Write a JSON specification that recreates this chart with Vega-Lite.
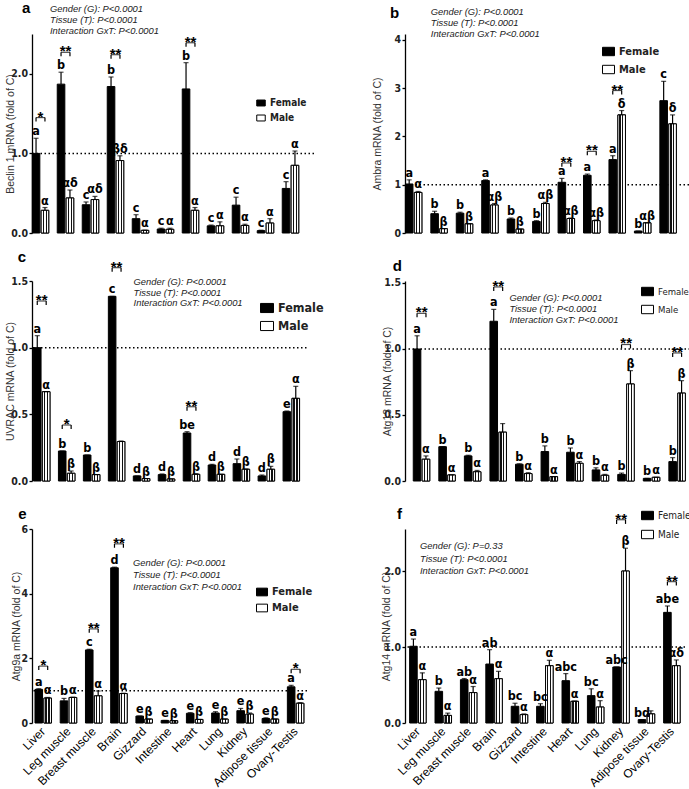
{
"$schema": "https://vega.github.io/schema/vega-lite/v6.json",
"padding": {"left": 5, "top": 0, "right": 0, "bottom": 0},
"config": {
 "view": {"stroke": null},
 "axis": {"labelFont": "'Liberation Sans Narrow', 'DejaVu Sans Condensed', sans-serif", "labelFontSize": 10.5, "labelFontWeight": "bold", "labelColor": "#222222", "titleFont": "'Liberation Sans', Arial, sans-serif", "titleFontSize": 10.5, "titleFontWeight": "normal", "titleColor": "#333333", "tickColor": "black", "domainColor": "black", "tickSize": 3, "tickWidth": 1.3, "domainWidth": 1.3, "grid": false, "labelPadding": 1.5},
 "text": {"font": "'Liberation Sans Narrow', 'DejaVu Sans Condensed', sans-serif", "fontSize": 12.5, "fontWeight": "bold", "color": "black"},
 "legend": {"symbolType": "M-1,-0.7H1V0.7H-1Z", "symbolStrokeColor": "black", "symbolStrokeWidth": 1, "labelFont": "'Liberation Sans Narrow', 'DejaVu Sans Condensed', sans-serif", "labelFontWeight": "bold", "labelColor": "#222222", "labelOffset": 4}
},
"datasets": {
"bars": [
{"p":"a","t":"Liver","s":"Female","v":1.0,"hi":1.19,"l":"a"},
{"p":"a","t":"Liver","s":"Male","v":0.285,"hi":0.32,"l":"α"},
{"p":"a","t":"Leg muscle","s":"Female","v":1.87,"hi":2.02,"l":"b"},
{"p":"a","t":"Leg muscle","s":"Male","v":0.44,"hi":0.54,"l":"αδ"},
{"p":"a","t":"Breast muscle","s":"Female","v":0.355,"hi":0.39,"l":"c"},
{"p":"a","t":"Breast muscle","s":"Male","v":0.42,"hi":0.46,"l":"αδ"},
{"p":"a","t":"Brain","s":"Female","v":1.84,"hi":1.96,"l":"b"},
{"p":"a","t":"Brain","s":"Male","v":0.91,"hi":0.97,"l":"βδ"},
{"p":"a","t":"Gizzard","s":"Female","v":0.18,"hi":0.23,"l":"c"},
{"p":"a","t":"Gizzard","s":"Male","v":0.033,"hi":0.036,"l":"α"},
{"p":"a","t":"Intestine","s":"Female","v":0.05,"hi":0.06,"l":"c"},
{"p":"a","t":"Intestine","s":"Male","v":0.046,"hi":0.06,"l":"α"},
{"p":"a","t":"Heart","s":"Female","v":1.81,"hi":2.14,"l":"b"},
{"p":"a","t":"Heart","s":"Male","v":0.285,"hi":0.32,"l":"α"},
{"p":"a","t":"Lung","s":"Female","v":0.09,"hi":0.10,"l":"c"},
{"p":"a","t":"Lung","s":"Male","v":0.09,"hi":0.14,"l":"α"},
{"p":"a","t":"Kidney","s":"Female","v":0.35,"hi":0.45,"l":"c"},
{"p":"a","t":"Kidney","s":"Male","v":0.095,"hi":0.11,"l":"α"},
{"p":"a","t":"Adipose tissue","s":"Female","v":0.03,"hi":0.035,"l":"c"},
{"p":"a","t":"Adipose tissue","s":"Male","v":0.125,"hi":0.18,"l":"α"},
{"p":"a","t":"Ovary-Testis","s":"Female","v":0.56,"hi":0.645,"l":"c"},
{"p":"a","t":"Ovary-Testis","s":"Male","v":0.85,"hi":1.03,"l":"α"},
{"p":"b","t":"Liver","s":"Female","v":1.015,"hi":1.10,"l":"a"},
{"p":"b","t":"Liver","s":"Male","v":0.84,"hi":0.86,"l":"α"},
{"p":"b","t":"Leg muscle","s":"Female","v":0.40,"hi":0.45,"l":"b"},
{"p":"b","t":"Leg muscle","s":"Male","v":0.09,"hi":0.09,"l":"β"},
{"p":"b","t":"Breast muscle","s":"Female","v":0.41,"hi":0.43,"l":"b"},
{"p":"b","t":"Breast muscle","s":"Male","v":0.19,"hi":0.19,"l":"β"},
{"p":"b","t":"Brain","s":"Female","v":1.085,"hi":1.10,"l":"a"},
{"p":"b","t":"Brain","s":"Male","v":0.58,"hi":0.61,"l":"αβ"},
{"p":"b","t":"Gizzard","s":"Female","v":0.29,"hi":0.31,"l":"b"},
{"p":"b","t":"Gizzard","s":"Male","v":0.08,"hi":0.08,"l":"β"},
{"p":"b","t":"Intestine","s":"Female","v":0.24,"hi":0.255,"l":"b"},
{"p":"b","t":"Intestine","s":"Male","v":0.61,"hi":0.635,"l":"αβ"},
{"p":"b","t":"Heart","s":"Female","v":1.05,"hi":1.13,"l":"a"},
{"p":"b","t":"Heart","s":"Male","v":0.30,"hi":0.31,"l":"αβ"},
{"p":"b","t":"Lung","s":"Female","v":1.195,"hi":1.22,"l":"a"},
{"p":"b","t":"Lung","s":"Male","v":0.255,"hi":0.27,"l":"αβ"},
{"p":"b","t":"Kidney","s":"Female","v":1.52,"hi":1.60,"l":"a"},
{"p":"b","t":"Kidney","s":"Male","v":2.445,"hi":2.535,"l":"δ"},
{"p":"b","t":"Adipose tissue","s":"Female","v":0.04,"hi":0.04,"l":"b"},
{"p":"b","t":"Adipose tissue","s":"Male","v":0.21,"hi":0.21,"l":"αβ"},
{"p":"b","t":"Ovary-Testis","s":"Female","v":2.74,"hi":3.14,"l":"c"},
{"p":"b","t":"Ovary-Testis","s":"Male","v":2.26,"hi":2.445,"l":"δ"},
{"p":"c","t":"Liver","s":"Female","v":1.0,"hi":1.09,"l":"a"},
{"p":"c","t":"Liver","s":"Male","v":0.67,"hi":0.67,"l":"α"},
{"p":"c","t":"Leg muscle","s":"Female","v":0.225,"hi":0.225,"l":"b"},
{"p":"c","t":"Leg muscle","s":"Male","v":0.058,"hi":0.075,"l":"β"},
{"p":"c","t":"Breast muscle","s":"Female","v":0.195,"hi":0.195,"l":"b"},
{"p":"c","t":"Breast muscle","s":"Male","v":0.048,"hi":0.048,"l":"β"},
{"p":"c","t":"Brain","s":"Female","v":1.385,"hi":1.385,"l":"c"},
{"p":"c","t":"Brain","s":"Male","v":0.296,"hi":0.30,"l":""},
{"p":"c","t":"Gizzard","s":"Female","v":0.038,"hi":0.038,"l":"d"},
{"p":"c","t":"Gizzard","s":"Male","v":0.018,"hi":0.018,"l":"β"},
{"p":"c","t":"Intestine","s":"Female","v":0.048,"hi":0.053,"l":"d"},
{"p":"c","t":"Intestine","s":"Male","v":0.015,"hi":0.015,"l":"β"},
{"p":"c","t":"Heart","s":"Female","v":0.36,"hi":0.37,"l":"be"},
{"p":"c","t":"Heart","s":"Male","v":0.05,"hi":0.055,"l":"β"},
{"p":"c","t":"Lung","s":"Female","v":0.12,"hi":0.125,"l":"d"},
{"p":"c","t":"Lung","s":"Male","v":0.05,"hi":0.05,"l":"β"},
{"p":"c","t":"Kidney","s":"Female","v":0.13,"hi":0.165,"l":"d"},
{"p":"c","t":"Kidney","s":"Male","v":0.088,"hi":0.09,"l":"β"},
{"p":"c","t":"Adipose tissue","s":"Female","v":0.038,"hi":0.045,"l":"d"},
{"p":"c","t":"Adipose tissue","s":"Male","v":0.088,"hi":0.11,"l":"β"},
{"p":"c","t":"Ovary-Testis","s":"Female","v":0.52,"hi":0.525,"l":"e"},
{"p":"c","t":"Ovary-Testis","s":"Male","v":0.62,"hi":0.71,"l":"α"},
{"p":"d","t":"Liver","s":"Female","v":1.0,"hi":1.10,"l":"a"},
{"p":"d","t":"Liver","s":"Male","v":0.165,"hi":0.19,"l":"α"},
{"p":"d","t":"Leg muscle","s":"Female","v":0.26,"hi":0.26,"l":"b"},
{"p":"d","t":"Leg muscle","s":"Male","v":0.046,"hi":0.046,"l":"α"},
{"p":"d","t":"Breast muscle","s":"Female","v":0.19,"hi":0.195,"l":"b"},
{"p":"d","t":"Breast muscle","s":"Male","v":0.07,"hi":0.08,"l":"α"},
{"p":"d","t":"Brain","s":"Female","v":1.21,"hi":1.30,"l":"a"},
{"p":"d","t":"Brain","s":"Male","v":0.37,"hi":0.435,"l":""},
{"p":"d","t":"Gizzard","s":"Female","v":0.127,"hi":0.13,"l":"b"},
{"p":"d","t":"Gizzard","s":"Male","v":0.056,"hi":0.063,"l":"α"},
{"p":"d","t":"Intestine","s":"Female","v":0.223,"hi":0.266,"l":"b"},
{"p":"d","t":"Intestine","s":"Male","v":0.033,"hi":0.033,"l":"α"},
{"p":"d","t":"Heart","s":"Female","v":0.218,"hi":0.25,"l":"b"},
{"p":"d","t":"Heart","s":"Male","v":0.134,"hi":0.147,"l":"α"},
{"p":"d","t":"Lung","s":"Female","v":0.084,"hi":0.10,"l":"b"},
{"p":"d","t":"Lung","s":"Male","v":0.043,"hi":0.05,"l":"α"},
{"p":"d","t":"Kidney","s":"Female","v":0.05,"hi":0.06,"l":"b"},
{"p":"d","t":"Kidney","s":"Male","v":0.735,"hi":0.836,"l":"β"},
{"p":"d","t":"Adipose tissue","s":"Female","v":0.02,"hi":0.02,"l":"b"},
{"p":"d","t":"Adipose tissue","s":"Male","v":0.028,"hi":0.028,"l":"α"},
{"p":"d","t":"Ovary-Testis","s":"Female","v":0.147,"hi":0.177,"l":"b"},
{"p":"d","t":"Ovary-Testis","s":"Male","v":0.666,"hi":0.76,"l":"β"},
{"p":"e","t":"Liver","s":"Female","v":1.04,"hi":1.06,"l":"a"},
{"p":"e","t":"Liver","s":"Male","v":0.77,"hi":0.79,"l":"α"},
{"p":"e","t":"Leg muscle","s":"Female","v":0.685,"hi":0.76,"l":"b"},
{"p":"e","t":"Leg muscle","s":"Male","v":0.79,"hi":0.80,"l":"α"},
{"p":"e","t":"Breast muscle","s":"Female","v":2.26,"hi":2.28,"l":"c"},
{"p":"e","t":"Breast muscle","s":"Male","v":0.84,"hi":0.99,"l":"α"},
{"p":"e","t":"Brain","s":"Female","v":4.80,"hi":4.82,"l":"d"},
{"p":"e","t":"Brain","s":"Male","v":0.91,"hi":0.92,"l":"α"},
{"p":"e","t":"Gizzard","s":"Female","v":0.215,"hi":0.215,"l":"e"},
{"p":"e","t":"Gizzard","s":"Male","v":0.12,"hi":0.12,"l":"β"},
{"p":"e","t":"Intestine","s":"Female","v":0.08,"hi":0.08,"l":"e"},
{"p":"e","t":"Intestine","s":"Male","v":0.07,"hi":0.07,"l":"β"},
{"p":"e","t":"Heart","s":"Female","v":0.30,"hi":0.32,"l":"e"},
{"p":"e","t":"Heart","s":"Male","v":0.11,"hi":0.11,"l":"β"},
{"p":"e","t":"Lung","s":"Female","v":0.31,"hi":0.35,"l":"e"},
{"p":"e","t":"Lung","s":"Male","v":0.12,"hi":0.12,"l":"β"},
{"p":"e","t":"Kidney","s":"Female","v":0.38,"hi":0.45,"l":"e"},
{"p":"e","t":"Kidney","s":"Male","v":0.275,"hi":0.31,"l":"β"},
{"p":"e","t":"Adipose tissue","s":"Female","v":0.14,"hi":0.16,"l":"e"},
{"p":"e","t":"Adipose tissue","s":"Male","v":0.12,"hi":0.12,"l":"β"},
{"p":"e","t":"Ovary-Testis","s":"Female","v":1.12,"hi":1.165,"l":"a"},
{"p":"e","t":"Ovary-Testis","s":"Male","v":0.61,"hi":0.63,"l":"α"},
{"p":"f","t":"Liver","s":"Female","v":1.01,"hi":1.105,"l":"a"},
{"p":"f","t":"Liver","s":"Male","v":0.57,"hi":0.66,"l":"α"},
{"p":"f","t":"Leg muscle","s":"Female","v":0.417,"hi":0.46,"l":"b"},
{"p":"f","t":"Leg muscle","s":"Male","v":0.10,"hi":0.13,"l":"α"},
{"p":"f","t":"Breast muscle","s":"Female","v":0.57,"hi":0.585,"l":"ab"},
{"p":"f","t":"Breast muscle","s":"Male","v":0.40,"hi":0.48,"l":"α"},
{"p":"f","t":"Brain","s":"Female","v":0.776,"hi":0.965,"l":"ab"},
{"p":"f","t":"Brain","s":"Male","v":0.583,"hi":0.68,"l":"α"},
{"p":"f","t":"Gizzard","s":"Female","v":0.22,"hi":0.26,"l":"bc"},
{"p":"f","t":"Gizzard","s":"Male","v":0.11,"hi":0.12,"l":"α"},
{"p":"f","t":"Intestine","s":"Female","v":0.22,"hi":0.254,"l":"bc"},
{"p":"f","t":"Intestine","s":"Male","v":0.754,"hi":0.825,"l":"α"},
{"p":"f","t":"Heart","s":"Female","v":0.557,"hi":0.65,"l":"abc"},
{"p":"f","t":"Heart","s":"Male","v":0.285,"hi":0.29,"l":"α"},
{"p":"f","t":"Lung","s":"Female","v":0.36,"hi":0.45,"l":"bc"},
{"p":"f","t":"Lung","s":"Male","v":0.21,"hi":0.294,"l":"α"},
{"p":"f","t":"Kidney","s":"Female","v":0.737,"hi":0.737,"l":"abc"},
{"p":"f","t":"Kidney","s":"Male","v":2.00,"hi":2.30,"l":"β"},
{"p":"f","t":"Adipose tissue","s":"Female","v":0.044,"hi":0.044,"l":"bd"},
{"p":"f","t":"Adipose tissue","s":"Male","v":0.12,"hi":0.16,"l":""},
{"p":"f","t":"Ovary-Testis","s":"Female","v":1.456,"hi":1.54,"l":"abe"},
{"p":"f","t":"Ovary-Testis","s":"Male","v":0.754,"hi":0.83,"l":"αδ"}
],
"brk": [
{"p":"a","t":"Liver","y":1.45,"lo":1.40,"st":"*","e":["Female","Male"]},
{"p":"a","t":"Leg muscle","y":2.27,"lo":2.22,"st":"**","e":["Female","Male"]},
{"p":"a","t":"Brain","y":2.24,"lo":2.19,"st":"**","e":["Female","Male"]},
{"p":"a","t":"Heart","y":2.39,"lo":2.34,"st":"**","e":["Female","Male"]},
{"p":"b","t":"Heart","y":1.45,"lo":1.37,"st":"**","e":["Female","Male"]},
{"p":"b","t":"Lung","y":1.69,"lo":1.61,"st":"**","e":["Female","Male"]},
{"p":"b","t":"Kidney","y":2.95,"lo":2.87,"st":"**","e":["Female","Male"]},
{"p":"c","t":"Liver","y":1.35,"lo":1.32,"st":"**","e":["Female","Male"]},
{"p":"c","t":"Leg muscle","y":0.42,"lo":0.39,"st":"*","e":["Female","Male"]},
{"p":"c","t":"Brain","y":1.60,"lo":1.57,"st":"**","e":["Female","Male"]},
{"p":"c","t":"Heart","y":0.557,"lo":0.527,"st":"**","e":["Female","Male"]},
{"p":"d","t":"Liver","y":1.27,"lo":1.24,"st":"**","e":["Female","Male"]},
{"p":"d","t":"Brain","y":1.47,"lo":1.44,"st":"**","e":["Female","Male"]},
{"p":"d","t":"Kidney","y":1.034,"lo":1.004,"st":"**","e":["Female","Male"]},
{"p":"d","t":"Ovary-Testis","y":0.97,"lo":0.94,"st":"**","e":["Female","Male"]},
{"p":"e","t":"Liver","y":1.76,"lo":1.64,"st":"*","e":["Female","Male"]},
{"p":"e","t":"Breast muscle","y":2.91,"lo":2.79,"st":"**","e":["Female","Male"]},
{"p":"e","t":"Brain","y":5.54,"lo":5.42,"st":"**","e":["Female","Male"]},
{"p":"e","t":"Ovary-Testis","y":1.66,"lo":1.54,"st":"*","e":["Female","Male"]},
{"p":"f","t":"Kidney","y":2.675,"lo":2.62,"st":"**","e":["Female","Male"]},
{"p":"f","t":"Ovary-Testis","y":1.86,"lo":1.81,"st":"**","e":["Female","Male"]}
]
},
"columns": 2,
"align": "none",
"bounds": "flush",
"spacing": {"row": 48, "column": 91},
"resolve": {"legend": {"color": "independent"}},
"concat": [
 {"width": 282, "height": 199,
  "layer": [
   {"data": {"values": [{}]}, "mark": {"type": "rule", "strokeDash": [1.5, 2.5], "strokeWidth": 1.5, "color": "black"}, "encoding": {"y": {"datum": 1}}},
   {"data": {"name": "bars"}, "transform": [{"filter": "datum.p == 'a'"}],
    "encoding": {"x": {"field": "t", "type": "nominal", "scale": {"domain": ["Liver","Leg muscle","Breast muscle","Brain","Gizzard","Intestine","Heart","Lung","Kidney","Adipose tissue","Ovary-Testis"], "paddingInner": 0.34, "paddingOuter": 0.31, "align": 0.016}, "axis": {"labels": false, "ticks": false, "domain": false, "title": null}},
                 "xOffset": {"field": "s", "type": "nominal", "scale": {"domain": ["Female","Male"], "paddingInner": 0.15}}},
    "layer": [
     {"mark": {"type": "bar", "stroke": "black", "strokeWidth": 1}, "encoding": {"y": {"field": "v", "type": "quantitative", "scale": {"domain": [0, 2.5], "nice": false}, "axis": {"title": "Beclin 1 mRNA (fold of C)", "values": [0, 0.5, 1, 1.5, 2, 2.5], "format": ".1f", "titleX": -22, "titleBaseline": "middle"}}, "color": {"field": "s", "type": "nominal", "scale": {"domain": ["Female","Male"], "range": ["black","white"]}, "legend": {"title": null, "orient": "none", "legendX": 224, "legendY": 64, "symbolSize": 72, "labelFontSize": 10, "rowPadding": 5}}}},
     {"transform": [{"filter": "datum.s == 'Male'"}], "mark": {"type": "bar", "stroke": "black", "strokeWidth": 1, "fill": {"gradient": "linear", "x1": 0, "y1": 0, "x2": 1, "y2": 0, "stops": [{"offset": 0, "color": "#ffffff"}, {"offset": 0.2, "color": "#ffffff"}, {"offset": 0.2, "color": "#111111"}, {"offset": 0.36, "color": "#111111"}, {"offset": 0.36, "color": "#ffffff"}, {"offset": 0.58, "color": "#ffffff"}, {"offset": 0.58, "color": "#111111"}, {"offset": 0.74, "color": "#111111"}, {"offset": 0.74, "color": "#ffffff"}, {"offset": 1, "color": "#ffffff"}]}}, "encoding": {"y": {"field": "v", "type": "quantitative"}}},
     {"mark": {"type": "rule", "strokeWidth": 1.2, "color": "black"}, "encoding": {"y": {"field": "v", "type": "quantitative"}, "y2": {"field": "hi"}}},
     {"mark": {"type": "tick", "size": 5, "thickness": 1.2, "color": "black"}, "encoding": {"y": {"field": "hi", "type": "quantitative"}}},
     {"mark": {"type": "text", "baseline": "alphabetic", "dy": -3, "fill": "black"}, "encoding": {"y": {"field": "hi", "type": "quantitative"}, "text": {"field": "l"}}}
    ]},
   {"data": {"name": "brk"}, "transform": [{"filter": "datum.p == 'a'"}], "encoding": {"x": {"field": "t", "type": "nominal"}},
    "layer": [
     {"mark": {"type": "tick", "size": 9, "thickness": 1.2, "color": "black"}, "encoding": {"y": {"field": "y", "type": "quantitative"}}},
     {"transform": [{"flatten": ["e"]}], "mark": {"type": "rule", "strokeWidth": 1.2, "color": "black"}, "encoding": {"xOffset": {"field": "e", "type": "nominal"}, "y": {"field": "y", "type": "quantitative"}, "y2": {"field": "lo"}}},
     {"mark": {"type": "text", "baseline": "alphabetic", "dy": 4, "fontSize": 15, "fontWeight": "bold", "font": "'Liberation Sans', Arial, sans-serif", "fill": "black"}, "encoding": {"y": {"field": "y", "type": "quantitative"}, "text": {"field": "st"}}}
    ]},
   {"data": {"values": [{}]}, "mark": {"type": "text", "text": ["Gender (G): P<0.0001", "Tissue (T): P<0.0001", "Interaction GxT: P<0.0001"], "align": "left", "baseline": "top", "dx": 9.5, "lineHeight": 11, "font": "'Liberation Sans', Arial, sans-serif", "fontStyle": "italic", "fontWeight": "normal", "fontSize": 9.4, "fill": "#222222"}, "encoding": {"x": {"datum": "Liver"}, "y": {"datum": 2.87}}},
   {"data": {"values": [{}]}, "mark": {"type": "text", "text": "a", "align": "left", "baseline": "alphabetic", "dx": -18.5, "fontSize": 15, "fontWeight": "bold", "font": "'Liberation Sans', Arial, sans-serif", "fill": "black"}, "encoding": {"x": {"datum": "Liver"}, "y": {"datum": 2.764}}}
  ]},
 {"width": 284, "height": 199,
  "layer": [
   {"data": {"values": [{}]}, "mark": {"type": "rule", "strokeDash": [1.5, 2.5], "strokeWidth": 1.5, "color": "black"}, "encoding": {"y": {"datum": 1}}},
   {"data": {"name": "bars"}, "transform": [{"filter": "datum.p == 'b'"}],
    "encoding": {"x": {"field": "t", "type": "nominal", "scale": {"domain": ["Liver","Leg muscle","Breast muscle","Brain","Gizzard","Intestine","Heart","Lung","Kidney","Adipose tissue","Ovary-Testis"], "paddingInner": 0.34, "paddingOuter": 0.25, "align": 0.03}, "axis": {"labels": false, "ticks": false, "domain": false, "title": null}},
                 "xOffset": {"field": "s", "type": "nominal", "scale": {"domain": ["Female","Male"], "paddingInner": 0.15}}},
    "layer": [
     {"mark": {"type": "bar", "stroke": "black", "strokeWidth": 1}, "encoding": {"y": {"field": "v", "type": "quantitative", "scale": {"domain": [0, 4.12], "nice": false}, "axis": {"title": "Ambra mRNA (fold of C)", "values": [0, 1, 2, 3, 4], "format": "d", "titleX": -28, "titleBaseline": "middle"}}, "color": {"field": "s", "type": "nominal", "scale": {"domain": ["Female","Male"], "range": ["black","white"]}, "legend": {"title": null, "orient": "none", "legendX": 197, "legendY": 11, "symbolSize": 144, "labelFontSize": 11, "rowPadding": 5}}}},
     {"transform": [{"filter": "datum.s == 'Male'"}], "mark": {"type": "bar", "stroke": "black", "strokeWidth": 1, "fill": {"gradient": "linear", "x1": 0, "y1": 0, "x2": 1, "y2": 0, "stops": [{"offset": 0, "color": "#ffffff"}, {"offset": 0.2, "color": "#ffffff"}, {"offset": 0.2, "color": "#111111"}, {"offset": 0.36, "color": "#111111"}, {"offset": 0.36, "color": "#ffffff"}, {"offset": 0.58, "color": "#ffffff"}, {"offset": 0.58, "color": "#111111"}, {"offset": 0.74, "color": "#111111"}, {"offset": 0.74, "color": "#ffffff"}, {"offset": 1, "color": "#ffffff"}]}}, "encoding": {"y": {"field": "v", "type": "quantitative"}}},
     {"mark": {"type": "rule", "strokeWidth": 1.2, "color": "black"}, "encoding": {"y": {"field": "v", "type": "quantitative"}, "y2": {"field": "hi"}}},
     {"mark": {"type": "tick", "size": 5, "thickness": 1.2, "color": "black"}, "encoding": {"y": {"field": "hi", "type": "quantitative"}}},
     {"mark": {"type": "text", "baseline": "alphabetic", "dy": -3, "fill": "black"}, "encoding": {"y": {"field": "hi", "type": "quantitative"}, "text": {"field": "l"}}}
    ]},
   {"data": {"name": "brk"}, "transform": [{"filter": "datum.p == 'b'"}], "encoding": {"x": {"field": "t", "type": "nominal"}},
    "layer": [
     {"mark": {"type": "tick", "size": 9, "thickness": 1.2, "color": "black"}, "encoding": {"y": {"field": "y", "type": "quantitative"}}},
     {"transform": [{"flatten": ["e"]}], "mark": {"type": "rule", "strokeWidth": 1.2, "color": "black"}, "encoding": {"xOffset": {"field": "e", "type": "nominal"}, "y": {"field": "y", "type": "quantitative"}, "y2": {"field": "lo"}}},
     {"mark": {"type": "text", "baseline": "alphabetic", "dy": 4, "fontSize": 15, "fontWeight": "bold", "font": "'Liberation Sans', Arial, sans-serif", "fill": "black"}, "encoding": {"y": {"field": "y", "type": "quantitative"}, "text": {"field": "st"}}}
    ]},
   {"data": {"values": [{}]}, "mark": {"type": "text", "text": ["Gender (G): P<0.0001", "Tissue (T): P<0.0001", "Interaction GxT: P<0.0001"], "align": "left", "baseline": "top", "dx": 17, "lineHeight": 11, "font": "'Liberation Sans', Arial, sans-serif", "fontStyle": "italic", "fontWeight": "normal", "fontSize": 9.4, "fill": "#222222"}, "encoding": {"x": {"datum": "Liver"}, "y": {"datum": 4.66}}},
   {"data": {"values": [{}]}, "mark": {"type": "text", "text": "b", "align": "left", "baseline": "alphabetic", "dx": -23.8, "fontSize": 15, "fontWeight": "bold", "font": "'Liberation Sans', Arial, sans-serif", "fill": "black"}, "encoding": {"x": {"datum": "Liver"}, "y": {"datum": 4.45}}}
  ]},
 {"width": 274.5, "height": 200,
  "layer": [
   {"data": {"values": [{}]}, "mark": {"type": "rule", "strokeDash": [1.5, 2.5], "strokeWidth": 1.5, "color": "black"}, "encoding": {"y": {"datum": 1}}},
   {"data": {"name": "bars"}, "transform": [{"filter": "datum.p == 'c'"}],
    "encoding": {"x": {"field": "t", "type": "nominal", "scale": {"domain": ["Liver","Leg muscle","Breast muscle","Brain","Gizzard","Intestine","Heart","Lung","Kidney","Adipose tissue","Ovary-Testis"], "paddingInner": 0.34, "paddingOuter": 0.169, "align": 0.174}, "axis": {"labels": false, "ticks": false, "domain": false, "title": null}},
                 "xOffset": {"field": "s", "type": "nominal", "scale": {"domain": ["Female","Male"], "paddingInner": 0.15}}},
    "layer": [
     {"mark": {"type": "bar", "stroke": "black", "strokeWidth": 1}, "encoding": {"y": {"field": "v", "type": "quantitative", "scale": {"domain": [0, 1.5], "nice": false}, "axis": {"title": "UVRAC mRNA (fold of C)", "values": [0, 0.5, 1, 1.5], "format": ".1f", "titleX": -22, "titleBaseline": "middle"}}, "color": {"field": "s", "type": "nominal", "scale": {"domain": ["Female","Male"], "range": ["black","white"]}, "legend": {"title": null, "orient": "none", "legendX": 228, "legendY": 20, "symbolSize": 169, "labelFontSize": 12.5, "rowPadding": 4}}}},
     {"transform": [{"filter": "datum.s == 'Male'"}], "mark": {"type": "bar", "stroke": "black", "strokeWidth": 1, "fill": {"gradient": "linear", "x1": 0, "y1": 0, "x2": 1, "y2": 0, "stops": [{"offset": 0, "color": "#ffffff"}, {"offset": 0.2, "color": "#ffffff"}, {"offset": 0.2, "color": "#111111"}, {"offset": 0.36, "color": "#111111"}, {"offset": 0.36, "color": "#ffffff"}, {"offset": 0.58, "color": "#ffffff"}, {"offset": 0.58, "color": "#111111"}, {"offset": 0.74, "color": "#111111"}, {"offset": 0.74, "color": "#ffffff"}, {"offset": 1, "color": "#ffffff"}]}}, "encoding": {"y": {"field": "v", "type": "quantitative"}}},
     {"mark": {"type": "rule", "strokeWidth": 1.2, "color": "black"}, "encoding": {"y": {"field": "v", "type": "quantitative"}, "y2": {"field": "hi"}}},
     {"mark": {"type": "tick", "size": 5, "thickness": 1.2, "color": "black"}, "encoding": {"y": {"field": "hi", "type": "quantitative"}}},
     {"mark": {"type": "text", "baseline": "alphabetic", "dy": -3, "fill": "black"}, "encoding": {"y": {"field": "hi", "type": "quantitative"}, "text": {"field": "l"}}}
    ]},
   {"data": {"name": "brk"}, "transform": [{"filter": "datum.p == 'c'"}], "encoding": {"x": {"field": "t", "type": "nominal"}},
    "layer": [
     {"mark": {"type": "tick", "size": 9, "thickness": 1.2, "color": "black"}, "encoding": {"y": {"field": "y", "type": "quantitative"}}},
     {"transform": [{"flatten": ["e"]}], "mark": {"type": "rule", "strokeWidth": 1.2, "color": "black"}, "encoding": {"xOffset": {"field": "e", "type": "nominal"}, "y": {"field": "y", "type": "quantitative"}, "y2": {"field": "lo"}}},
     {"mark": {"type": "text", "baseline": "alphabetic", "dy": 4, "fontSize": 15, "fontWeight": "bold", "font": "'Liberation Sans', Arial, sans-serif", "fill": "black"}, "encoding": {"y": {"field": "y", "type": "quantitative"}, "text": {"field": "st"}}}
    ]},
   {"data": {"values": [{}]}, "mark": {"type": "text", "text": ["Gender (G): P<0.0001", "Tissue (T): P<0.0001", "Interaction GxT: P<0.0001"], "align": "left", "baseline": "top", "dx": 17, "lineHeight": 10.5, "font": "'Liberation Sans', Arial, sans-serif", "fontStyle": "italic", "fontWeight": "normal", "fontSize": 9.4, "fill": "#222222"}, "encoding": {"x": {"datum": "Brain"}, "y": {"datum": 1.52}}},
   {"data": {"values": [{}]}, "mark": {"type": "text", "text": "c", "align": "left", "baseline": "alphabetic", "dx": -24, "fontSize": 15, "fontWeight": "bold", "font": "'Liberation Sans', Arial, sans-serif", "fill": "black"}, "encoding": {"x": {"datum": "Liver"}, "y": {"datum": 1.643}}}
  ]},
 {"width": 289, "height": 200,
  "layer": [
   {"data": {"values": [{}]}, "mark": {"type": "rule", "strokeDash": [1.5, 2.5], "strokeWidth": 1.5, "color": "black"}, "encoding": {"y": {"datum": 1}}},
   {"data": {"name": "bars"}, "transform": [{"filter": "datum.p == 'd'"}],
    "encoding": {"x": {"field": "t", "type": "nominal", "scale": {"domain": ["Liver","Leg muscle","Breast muscle","Brain","Gizzard","Intestine","Heart","Lung","Kidney","Adipose tissue","Ovary-Testis"], "paddingInner": 0.34, "paddingOuter": 0.323}, "axis": {"labels": false, "ticks": false, "domain": false, "title": null}},
                 "xOffset": {"field": "s", "type": "nominal", "scale": {"domain": ["Female","Male"], "paddingInner": 0.15}}},
    "layer": [
     {"mark": {"type": "bar", "stroke": "black", "strokeWidth": 1}, "encoding": {"y": {"field": "v", "type": "quantitative", "scale": {"domain": [0, 1.515], "nice": false}, "axis": {"title": "Atg13 mRNA (fold of C)", "values": [0, 0.5, 1, 1.5], "format": ".1f", "titleX": -17.5, "titleBaseline": "middle"}}, "color": {"field": "s", "type": "nominal", "scale": {"domain": ["Female","Male"], "range": ["black","white"]}, "legend": {"title": null, "orient": "none", "legendX": 236, "legendY": 4, "symbolSize": 144, "labelFontSize": 9.5, "labelFontWeight": "normal", "rowPadding": 5}}}},
     {"transform": [{"filter": "datum.s == 'Male'"}], "mark": {"type": "bar", "stroke": "black", "strokeWidth": 1, "fill": {"gradient": "linear", "x1": 0, "y1": 0, "x2": 1, "y2": 0, "stops": [{"offset": 0, "color": "#ffffff"}, {"offset": 0.2, "color": "#ffffff"}, {"offset": 0.2, "color": "#111111"}, {"offset": 0.36, "color": "#111111"}, {"offset": 0.36, "color": "#ffffff"}, {"offset": 0.58, "color": "#ffffff"}, {"offset": 0.58, "color": "#111111"}, {"offset": 0.74, "color": "#111111"}, {"offset": 0.74, "color": "#ffffff"}, {"offset": 1, "color": "#ffffff"}]}}, "encoding": {"y": {"field": "v", "type": "quantitative"}}},
     {"mark": {"type": "rule", "strokeWidth": 1.2, "color": "black"}, "encoding": {"y": {"field": "v", "type": "quantitative"}, "y2": {"field": "hi"}}},
     {"mark": {"type": "tick", "size": 5, "thickness": 1.2, "color": "black"}, "encoding": {"y": {"field": "hi", "type": "quantitative"}}},
     {"mark": {"type": "text", "baseline": "alphabetic", "dy": -3, "fill": "black"}, "encoding": {"y": {"field": "hi", "type": "quantitative"}, "text": {"field": "l"}}}
    ]},
   {"data": {"name": "brk"}, "transform": [{"filter": "datum.p == 'd'"}], "encoding": {"x": {"field": "t", "type": "nominal"}},
    "layer": [
     {"mark": {"type": "tick", "size": 9, "thickness": 1.2, "color": "black"}, "encoding": {"y": {"field": "y", "type": "quantitative"}}},
     {"transform": [{"flatten": ["e"]}], "mark": {"type": "rule", "strokeWidth": 1.2, "color": "black"}, "encoding": {"xOffset": {"field": "e", "type": "nominal"}, "y": {"field": "y", "type": "quantitative"}, "y2": {"field": "lo"}}},
     {"mark": {"type": "text", "baseline": "alphabetic", "dy": 4, "fontSize": 15, "fontWeight": "bold", "font": "'Liberation Sans', Arial, sans-serif", "fill": "black"}, "encoding": {"y": {"field": "y", "type": "quantitative"}, "text": {"field": "st"}}}
    ]},
   {"data": {"values": [{}]}, "mark": {"type": "text", "text": ["Gender (G): P<0.0001", "Tissue (T): P<0.0001", "Interaction GxT: P<0.0001"], "align": "left", "baseline": "top", "dx": 11, "lineHeight": 11, "font": "'Liberation Sans', Arial, sans-serif", "fontStyle": "italic", "fontWeight": "normal", "fontSize": 9.4, "fill": "#222222"}, "encoding": {"x": {"datum": "Brain"}, "y": {"datum": 1.42}}},
   {"data": {"values": [{}]}, "mark": {"type": "text", "text": "d", "align": "left", "baseline": "alphabetic", "dx": -29, "fontSize": 15, "fontWeight": "bold", "font": "'Liberation Sans', Arial, sans-serif", "fill": "black"}, "encoding": {"x": {"datum": "Liver"}, "y": {"datum": 1.59}}}
  ]},
 {"width": 275, "height": 194,
  "layer": [
   {"data": {"values": [{}]}, "mark": {"type": "rule", "strokeDash": [1.5, 2.5], "strokeWidth": 1.5, "color": "black"}, "encoding": {"y": {"datum": 1}}},
   {"data": {"name": "bars"}, "transform": [{"filter": "datum.p == 'e'"}],
    "encoding": {"x": {"field": "t", "type": "nominal", "scale": {"domain": ["Liver","Leg muscle","Breast muscle","Brain","Gizzard","Intestine","Heart","Lung","Kidney","Adipose tissue","Ovary-Testis"], "paddingInner": 0.34, "paddingOuter": 0.118}, "axis": {"title": null, "labelAngle": -45, "labelAlign": "right", "labelBaseline": "middle", "labelFont": "'Liberation Sans', Arial, sans-serif", "labelFontSize": 12, "labelFontWeight": "normal", "labelColor": "black", "ticks": false, "domain": false, "labelPadding": 6}},
                 "xOffset": {"field": "s", "type": "nominal", "scale": {"domain": ["Female","Male"], "paddingInner": 0.15}}},
    "layer": [
     {"mark": {"type": "bar", "stroke": "black", "strokeWidth": 1}, "encoding": {"y": {"field": "v", "type": "quantitative", "scale": {"domain": [0, 6], "nice": false}, "axis": {"title": "Atg9a mRNA (fold of C)", "values": [0, 2, 4, 6], "format": "d", "titleX": -16, "titleBaseline": "middle"}}, "color": {"field": "s", "type": "nominal", "scale": {"domain": ["Female","Male"], "range": ["black","white"]}, "legend": {"title": null, "orient": "none", "legendX": 224, "legendY": 57, "symbolSize": 121, "labelFontSize": 11, "rowPadding": 4}}}},
     {"transform": [{"filter": "datum.s == 'Male'"}], "mark": {"type": "bar", "stroke": "black", "strokeWidth": 1, "fill": {"gradient": "linear", "x1": 0, "y1": 0, "x2": 1, "y2": 0, "stops": [{"offset": 0, "color": "#ffffff"}, {"offset": 0.2, "color": "#ffffff"}, {"offset": 0.2, "color": "#111111"}, {"offset": 0.36, "color": "#111111"}, {"offset": 0.36, "color": "#ffffff"}, {"offset": 0.58, "color": "#ffffff"}, {"offset": 0.58, "color": "#111111"}, {"offset": 0.74, "color": "#111111"}, {"offset": 0.74, "color": "#ffffff"}, {"offset": 1, "color": "#ffffff"}]}}, "encoding": {"y": {"field": "v", "type": "quantitative"}}},
     {"mark": {"type": "rule", "strokeWidth": 1.2, "color": "black"}, "encoding": {"y": {"field": "v", "type": "quantitative"}, "y2": {"field": "hi"}}},
     {"mark": {"type": "tick", "size": 5, "thickness": 1.2, "color": "black"}, "encoding": {"y": {"field": "hi", "type": "quantitative"}}},
     {"mark": {"type": "text", "baseline": "alphabetic", "dy": -3, "fill": "black"}, "encoding": {"y": {"field": "hi", "type": "quantitative"}, "text": {"field": "l"}}}
    ]},
   {"data": {"name": "brk"}, "transform": [{"filter": "datum.p == 'e'"}], "encoding": {"x": {"field": "t", "type": "nominal"}},
    "layer": [
     {"mark": {"type": "tick", "size": 9, "thickness": 1.2, "color": "black"}, "encoding": {"y": {"field": "y", "type": "quantitative"}}},
     {"transform": [{"flatten": ["e"]}], "mark": {"type": "rule", "strokeWidth": 1.2, "color": "black"}, "encoding": {"xOffset": {"field": "e", "type": "nominal"}, "y": {"field": "y", "type": "quantitative"}, "y2": {"field": "lo"}}},
     {"mark": {"type": "text", "baseline": "alphabetic", "dy": 4, "fontSize": 15, "fontWeight": "bold", "font": "'Liberation Sans', Arial, sans-serif", "fill": "black"}, "encoding": {"y": {"field": "y", "type": "quantitative"}, "text": {"field": "st"}}}
    ]},
   {"data": {"values": [{}]}, "mark": {"type": "text", "text": ["Gender (G): P<0.0001", "Tissue (T): P<0.0001", "Interaction GxT: P<0.0001"], "align": "left", "baseline": "top", "dx": 14, "lineHeight": 12, "font": "'Liberation Sans', Arial, sans-serif", "fontStyle": "italic", "fontWeight": "normal", "fontSize": 9.4, "fill": "#222222"}, "encoding": {"x": {"datum": "Brain"}, "y": {"datum": 5.08}}},
   {"data": {"values": [{}]}, "mark": {"type": "text", "text": "e", "align": "left", "baseline": "alphabetic", "dx": -25, "fontSize": 15, "fontWeight": "bold", "font": "'Liberation Sans', Arial, sans-serif", "fill": "black"}, "encoding": {"x": {"datum": "Liver"}, "y": {"datum": 6.31}}}
  ]},
 {"width": 280, "height": 194,
  "layer": [
   {"data": {"values": [{}]}, "mark": {"type": "rule", "strokeDash": [1.5, 2.5], "strokeWidth": 1.5, "color": "black"}, "encoding": {"y": {"datum": 1}}},
   {"data": {"name": "bars"}, "transform": [{"filter": "datum.p == 'f'"}],
    "encoding": {"x": {"field": "t", "type": "nominal", "scale": {"domain": ["Liver","Leg muscle","Breast muscle","Brain","Gizzard","Intestine","Heart","Lung","Kidney","Adipose tissue","Ovary-Testis"], "paddingInner": 0.34, "paddingOuter": 0.182}, "axis": {"title": null, "labelAngle": -45, "labelAlign": "right", "labelBaseline": "middle", "labelFont": "'Liberation Sans', Arial, sans-serif", "labelFontSize": 12, "labelFontWeight": "normal", "labelColor": "black", "ticks": false, "domain": false, "labelPadding": 6}},
                 "xOffset": {"field": "s", "type": "nominal", "scale": {"domain": ["Female","Male"], "paddingInner": 0.15}}},
    "layer": [
     {"mark": {"type": "bar", "stroke": "black", "strokeWidth": 1}, "encoding": {"y": {"field": "v", "type": "quantitative", "scale": {"domain": [0, 2.553], "nice": false}, "axis": {"title": "Atg14 mRNA (fold of C)", "values": [0, 0.5, 1, 1.5, 2, 2.5], "format": ".1f", "titleX": -19, "titleBaseline": "middle"}}, "color": {"field": "s", "type": "nominal", "scale": {"domain": ["Female","Male"], "range": ["black","white"]}, "legend": {"title": null, "orient": "none", "legendX": 236, "legendY": -20, "symbolSize": 144, "labelFontSize": 10, "labelFontWeight": "normal", "rowPadding": 6}}}},
     {"transform": [{"filter": "datum.s == 'Male'"}], "mark": {"type": "bar", "stroke": "black", "strokeWidth": 1, "fill": {"gradient": "linear", "x1": 0, "y1": 0, "x2": 1, "y2": 0, "stops": [{"offset": 0, "color": "#ffffff"}, {"offset": 0.2, "color": "#ffffff"}, {"offset": 0.2, "color": "#111111"}, {"offset": 0.36, "color": "#111111"}, {"offset": 0.36, "color": "#ffffff"}, {"offset": 0.58, "color": "#ffffff"}, {"offset": 0.58, "color": "#111111"}, {"offset": 0.74, "color": "#111111"}, {"offset": 0.74, "color": "#ffffff"}, {"offset": 1, "color": "#ffffff"}]}}, "encoding": {"y": {"field": "v", "type": "quantitative"}}},
     {"mark": {"type": "rule", "strokeWidth": 1.2, "color": "black"}, "encoding": {"y": {"field": "v", "type": "quantitative"}, "y2": {"field": "hi"}}},
     {"mark": {"type": "tick", "size": 5, "thickness": 1.2, "color": "black"}, "encoding": {"y": {"field": "hi", "type": "quantitative"}}},
     {"mark": {"type": "text", "baseline": "alphabetic", "dy": -3, "fill": "black"}, "encoding": {"y": {"field": "hi", "type": "quantitative"}, "text": {"field": "l"}}}
    ]},
   {"data": {"name": "brk"}, "transform": [{"filter": "datum.p == 'f'"}], "encoding": {"x": {"field": "t", "type": "nominal"}},
    "layer": [
     {"mark": {"type": "tick", "size": 9, "thickness": 1.2, "color": "black"}, "encoding": {"y": {"field": "y", "type": "quantitative"}}},
     {"transform": [{"flatten": ["e"]}], "mark": {"type": "rule", "strokeWidth": 1.2, "color": "black"}, "encoding": {"xOffset": {"field": "e", "type": "nominal"}, "y": {"field": "y", "type": "quantitative"}, "y2": {"field": "lo"}}},
     {"mark": {"type": "text", "baseline": "alphabetic", "dy": 4, "fontSize": 15, "fontWeight": "bold", "font": "'Liberation Sans', Arial, sans-serif", "fill": "black"}, "encoding": {"y": {"field": "y", "type": "quantitative"}, "text": {"field": "st"}}}
    ]},
   {"data": {"values": [{}]}, "mark": {"type": "text", "text": ["Gender (G): P=0.33", "Tissue (T): P<0.0001", "Interaction GxT: P<0.0001"], "align": "left", "baseline": "top", "dx": 2, "lineHeight": 12.5, "font": "'Liberation Sans', Arial, sans-serif", "fontStyle": "italic", "fontWeight": "normal", "fontSize": 9.4, "fill": "#222222"}, "encoding": {"x": {"datum": "Liver"}, "y": {"datum": 2.38}}},
   {"data": {"values": [{}]}, "mark": {"type": "text", "text": "f", "align": "left", "baseline": "alphabetic", "dx": -21, "fontSize": 15, "fontWeight": "bold", "font": "'Liberation Sans', Arial, sans-serif", "fill": "black"}, "encoding": {"x": {"datum": "Liver"}, "y": {"datum": 2.68}}}
  ]}
]
}
